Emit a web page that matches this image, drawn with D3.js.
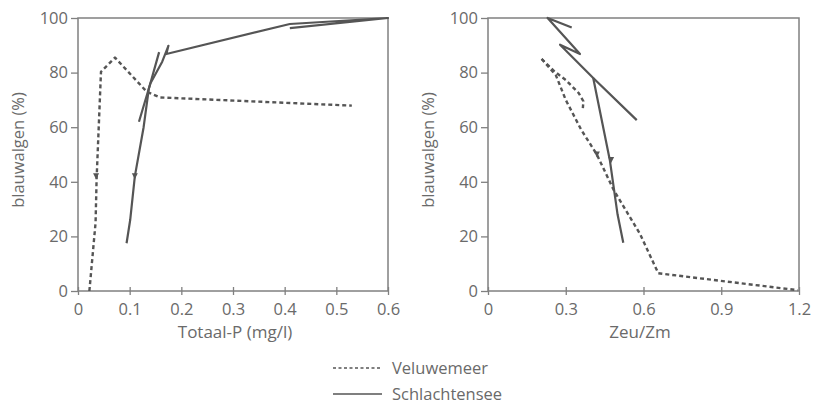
<!DOCTYPE html>
<html>
<head>
<meta charset="utf-8">
<script src="https://cdn.jsdelivr.net/npm/d3@7"></script>
<style>
  body { margin: 0; background: #fff; }
  svg { display: block; }
  text { font-family: "Open Sans", "Noto Sans", sans-serif; fill: #6a6a6a; }
</style>
</head>
<body>
<svg id="chart" width="819" height="405"></svg>
<script>
// ---- data ----
const yTicks = [0, 20, 40, 60, 80, 100];
const leftXTicks = [0, 0.1, 0.2, 0.3, 0.4, 0.5, 0.6];
const rightXTicks = [0, 0.3, 0.6, 0.9, 1.2];

// Left panel: Totaal-P (mg/l) vs blauwalgen (%)
const leftVeluwemeer = [
  [0.022, 0], [0.034, 25], [0.036, 41], [0.0445, 80.3], [0.0716, 85.5],
  [0.133, 73], [0.159, 70.9], [0.53, 67.9]
];
const leftSchlachtenseeA = [
  [0.094, 17.5], [0.101, 26], [0.11, 42], [0.127, 60], [0.137, 74], [0.157, 87.5]
];
const leftSchlachtenseeB = [
  [0.118, 62], [0.14, 76], [0.163, 84], [0.175, 89.8], [0.171, 86.8],
  [0.41, 97.8], [0.6, 100], [0.41, 96.3]
];
const leftMarkers = [[0.035, 42], [0.11, 42]];

// Right panel: Zeu/Zm vs blauwalgen (%)
const rightVeluwemeerA = [
  [0.207, 85], [0.258, 80.3], [0.30, 77.3], [0.35, 72.5], [0.368, 69.5], [0.366, 67]
];
const rightVeluwemeerB = [
  [0.207, 85], [0.262, 79], [0.30, 70], [0.36, 59], [0.42, 50],
  [0.485, 37], [0.586, 21], [0.657, 6.5], [1.195, 0.3]
];
const rightSchlachtenseeA = [
  [0.323, 96.5], [0.23, 100], [0.355, 86.8], [0.278, 90.2], [0.406, 78], [0.574, 62.6]
];
const rightSchlachtenseeB = [
  [0.406, 78], [0.47, 48], [0.50, 28], [0.522, 17.7]
];
const rightMarkers = [[0.42, 50], [0.475, 48]];

const legendItems = ["Veluwemeer", "Schlachtensee"];

// ---- drawing ----
const svg = d3.select("#chart");
const plotTop = 18, plotBottom = 291;
const lineColor = "#555";
const axisColor = "#808080";
const fontFam = '"Open Sans", "Noto Sans", sans-serif';

function panel(x0, x1, xDomain, xTicks, xFmt, xTitle, series, markers) {
  const x = d3.scaleLinear().domain(xDomain).range([x0, x1]);
  const y = d3.scaleLinear().domain([0, 100]).range([plotBottom, plotTop]);
  const g = svg.append("g");

  // frame
  g.append("rect").attr("x", x0).attr("y", plotTop).attr("width", x1 - x0).attr("height", plotBottom - plotTop)
    .attr("fill", "none").attr("stroke", axisColor).attr("stroke-width", 1.5);

  // y axis
  const ya = g.append("g").attr("transform", `translate(${x0},0)`)
    .call(d3.axisLeft(y).tickValues(yTicks).tickSize(7).tickPadding(3));
  ya.select(".domain").remove();
  ya.selectAll("line").attr("stroke", axisColor).attr("stroke-width", 1.3);
  ya.selectAll("text").attr("font-size", 16.5).attr("fill", "#6a6a6a").attr("font-family", fontFam);

  // x axis
  const xa = g.append("g").attr("transform", `translate(0,${plotBottom})`)
    .call(d3.axisBottom(x).tickValues(xTicks).tickSize(4).tickPadding(8).tickFormat(xFmt));
  xa.select(".domain").remove();
  xa.selectAll("line").attr("stroke", axisColor).attr("stroke-width", 1.3).attr("y1", -4);
  xa.selectAll("text").attr("font-size", 16.5).attr("fill", "#6a6a6a").attr("font-family", fontFam);

  // titles
  g.append("text").attr("x", xTitle.cx).attr("y", 338)
    .attr("text-anchor", "middle").attr("font-size", 17).text(xTitle.text);
  g.append("text").attr("transform", `translate(${x0 - 54},150) rotate(-90)`)
    .attr("text-anchor", "middle").attr("font-size", 16.5).text("blauwalgen (%)");

  const line = d3.line().x(d => x(d[0])).y(d => y(d[1]));
  series.forEach(s => {
    g.append("path").attr("d", line(s.data)).attr("fill", "none")
      .attr("stroke", lineColor).attr("stroke-width", s.dashed ? 2.4 : 2.2)
      .attr("stroke-dasharray", s.dashed ? "4,3" : null)
      .attr("stroke-linejoin", "round");
  });
  markers.forEach(m => {
    const cx = x(m[0]), cy = y(m[1]);
    g.append("path").attr("d", `M${cx - 3},${cy - 3}L${cx + 3},${cy - 3}L${cx},${cy + 3}Z`)
      .attr("fill", lineColor);
  });
}

panel(78, 388, [0, 0.6], leftXTicks, d => d === 0 ? "0" : d3.format(".1f")(d),
  { text: "Totaal-P (mg/l)", cx: 235 },
  [
    { data: leftVeluwemeer, dashed: true },
    { data: leftSchlachtenseeA, dashed: false },
    { data: leftSchlachtenseeB, dashed: false }
  ], leftMarkers);

panel(488, 799, [0, 1.2], rightXTicks, d => d === 0 ? "0" : d3.format(".1f")(d),
  { text: "Zeu/Zm", cx: 640 },
  [
    { data: rightVeluwemeerA, dashed: true },
    { data: rightVeluwemeerB, dashed: true },
    { data: rightSchlachtenseeA, dashed: false },
    { data: rightSchlachtenseeB, dashed: false }
  ], rightMarkers);

// legend
const lg = svg.append("g");
legendItems.forEach((name, i) => {
  const yy = 368 + i * 26;
  lg.append("line").attr("x1", 333).attr("x2", 382).attr("y1", yy).attr("y2", yy)
    .attr("stroke", lineColor).attr("stroke-width", i === 0 ? 1.6 : 1.4)
    .attr("stroke-dasharray", i === 0 ? "3,2.5" : null);
  lg.append("text").attr("x", 392).attr("y", yy).attr("dy", "0.35em")
    .attr("font-size", 16.5).text(name);
});
</script>
</body>
</html>
